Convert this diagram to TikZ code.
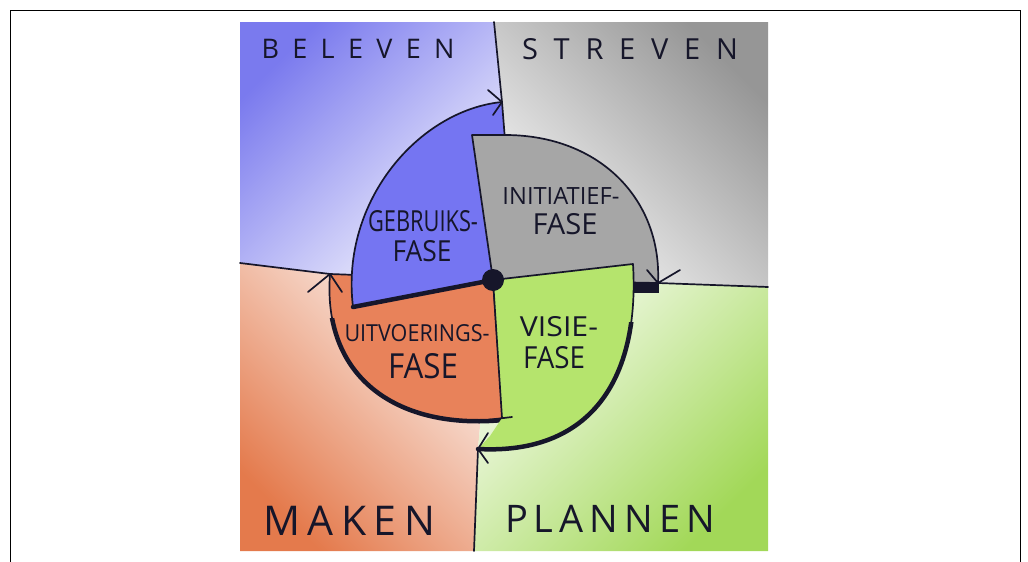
\documentclass[tikz,border=0pt]{standalone}
\usepackage{fontspec}
\setmainfont{Open Sans}
\usepackage{graphicx}
\definecolor{ink}{HTML}{16162A}
\definecolor{bluef}{HTML}{7575F2}
\definecolor{grayf}{HTML}{A6A6A6}
\definecolor{greenf}{HTML}{B5E46D}
\definecolor{orangef}{HTML}{E8825A}
\definecolor{bgblue}{HTML}{7A7AEE}
\definecolor{bgbluem}{HTML}{D4D4F8}
\definecolor{bgbluel}{HTML}{F6F6FD}
\definecolor{bggray}{HTML}{969696}
\definecolor{bggraym}{HTML}{D2D2D2}
\definecolor{bggrayl}{HTML}{F8F8F8}
\definecolor{bgorange}{HTML}{E47A4C}
\definecolor{bgorangem}{HTML}{F2C7B4}
\definecolor{bgorangel}{HTML}{FCF5F2}
\definecolor{bggreen}{HTML}{A2D858}
\definecolor{bggreenm}{HTML}{DCF2C6}
\definecolor{bggreenl}{HTML}{F7FCF1}
\newcommand\lab[3]{\resizebox{#1}{#2}{#3}}
\newcommand\spread[3]{{\fontsize{#1}{#1}\selectfont\makebox[#2][s]{#3}}}
\begin{document}
\begin{tikzpicture}[x=1pt,y=-1pt,
  edge/.style={draw=ink,line width=1.7pt,line join=round,line cap=round},
  heavy/.style={draw=ink,line width=4.5pt,line join=round,line cap=round},
  quad/.style={inner sep=0pt,text=ink},
  inner/.style={inner sep=0pt,text=ink}]
\useasboundingbox (0,0) rectangle (1028,562);
\fill[white] (0,0) rectangle (1028,562);
\draw[line width=0.9pt] (10,562) -- (10,10) -- (1020,10) -- (1020,562);

% key points
\coordinate (C) at (493,280);
\coordinate (T) at (502,102);
\coordinate (R) at (658,283);
\coordinate (B) at (478,449);
\coordinate (L) at (330,274);
\coordinate (Ttop) at (494,22);
\coordinate (Rend) at (768,287);
\coordinate (Bend) at (474,551);
\coordinate (Lend) at (240,263);

% backgrounds
\shade[top color=bgblue, middle color=bgbluem, bottom color=bgbluel, shading angle=45]
  (240,22) -- (Ttop) -- (T) -- (C) -- (L) -- (Lend) -- cycle;
\shade[top color=bggray, middle color=bggraym, bottom color=bggrayl, shading angle=-45]
  (Ttop) -- (768,22) -- (Rend) -- (R) -- (C) -- (T) -- cycle;
\shade[top color=bgorangel, middle color=bgorangem, bottom color=bgorange, shading angle=-45]
  (Lend) -- (L) -- (C) -- (B) -- (Bend) -- (240,551) -- cycle;
\shade[top color=bggreenl, middle color=bggreenm, bottom color=bggreen, shading angle=45]
  (C) -- (R) -- (Rend) -- (768,551) -- (Bend) -- (B) -- cycle;

% quadrant lines
\draw[edge] (Ttop) -- (T);
\draw[edge] (Lend) -- (L);
\draw[edge] (R) -- (Rend);
\draw[edge] (B) -- (Bend);

% orange wedge
\filldraw[fill=orangef, edge] (L) .. controls (322,380) and (400,430) .. (503,420) -- (C) -- cycle;
\begin{scope}
  \clip (0,318) rectangle (1028,562);
  \draw[heavy] (L) .. controls (322,380) and (400,430) .. (503,420);
\end{scope}

% blue wedge
\filldraw[fill=bluef, edge] (353,307) .. controls (340,200) and (420,110) .. (T) -- (505,140) -- (C) -- cycle;
\draw[heavy] (353,307) -- (C);

% gray wedge
\filldraw[fill=grayf, edge] (472,135) -- (505,135) .. controls (600,135) and (662,200) .. (R) -- (C) -- cycle;
\fill[ink] (632,282) rectangle (659,293);

% green wedge
\fill[greenf] (C) -- (633,264) .. controls (640,380) and (590,455) .. (B) -- (490,436) -- (502,418) -- cycle;
\draw[edge] (C) -- (633,264) .. controls (640,380) and (590,455) .. (B);
\begin{scope}
  \clip (0,342) -- (700,320) -- (700,562) -- (0,562) -- cycle;
  \draw[heavy] (633,264) .. controls (640,380) and (590,455) .. (B);
\end{scope}

% orange right edge and bottom tick
\draw[edge] (C) -- (502,418);
\draw[edge] (470,422) -- (512,417);

% arrow heads
\draw[edge] (488,90) -- (T) -- (493,115);
\draw[edge] (647,270) -- (R) -- (680,270);
\draw[edge] (488,433) -- (B) -- (488,463);
\draw[edge] (308,292) -- (L) -- (342,292);

% centre dot
\fill[ink] (C) circle (11);

% quadrant labels
\node[quad] (beleven) at (358,49) {\spread{27pt}{193pt}{B\hfil E\hfil L\hfil E\hfil V\hfil E\hfil N}};
\node[quad] (streven) at (630,49) {\spread{29pt}{216pt}{S\hfil T\hfil R\hfil E\hfil V\hfil E\hfil N}};
\node[quad] (maken) at (349,521) {\spread{41pt}{172pt}{M\hfil A\hfil K\hfil E\hfil N}};
\node[quad] (plannen) at (610,519) {\spread{38pt}{210pt}{P\hfil L\hfil A\hfil N\hfil N\hfil E\hfil N}};

% phase labels
\node[inner] (geb1) at (423,221) {\lab{110pt}{21pt}{GEBRUIKS-}};
\node[inner] (geb2) at (422,251) {\lab{59pt}{21pt}{FASE}};
\node[inner] (ini1) at (561,196) {\lab{117pt}{17pt}{INITIATIEF-}};
\node[inner] (ini2) at (565,224) {\lab{65pt}{21pt}{FASE}};
\node[inner] (uit1) at (417,333) {\lab{145pt}{17pt}{UITVOERINGS-}};
\node[inner] (uit2) at (423,366) {\lab{70pt}{25pt}{FASE}};
\node[inner] (vis1) at (559,327) {\lab{78pt}{20pt}{VISIE-}};
\node[inner] (vis2) at (554,358) {\lab{62pt}{22pt}{FASE}};
\end{tikzpicture}
\end{document}
